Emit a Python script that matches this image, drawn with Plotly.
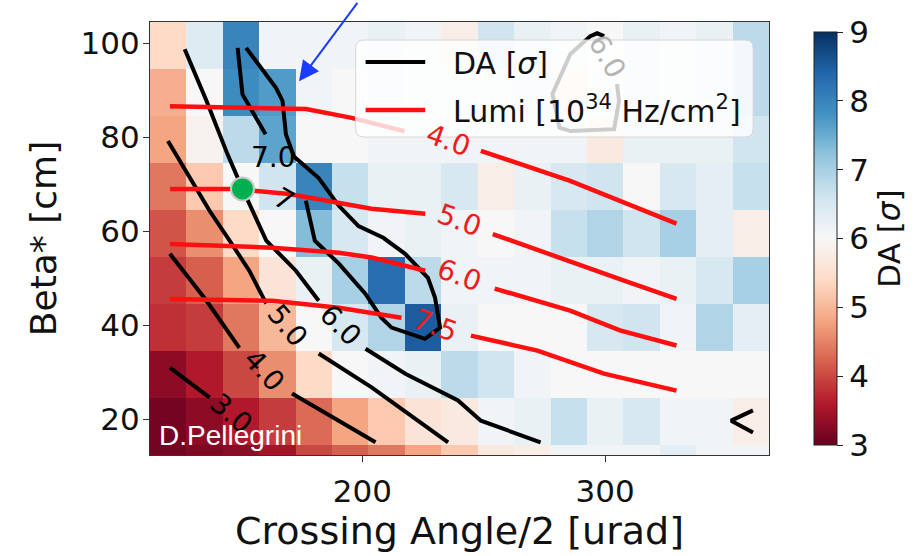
import plotly.graph_objects as go

# ---- DA scan grid (cell centres) -------------------------------------------
crossing_angle = [120, 135, 150, 165, 180, 195, 210, 225, 240, 255, 270, 285,
                  300, 315, 330, 345, 360]
beta_star = [9.5, 19.5, 29.5, 39.5, 49.5, 59.5, 69.5, 79.5, 89.5, 99.5]

# DA [sigma], one row per beta* value (lowest beta* first)
da_b10 = [3.1, 3.2, 3.3, 3.5, 4.0, 4.2, 4.4, 4.8, 5.2, 5.7, 5.8, 6.1, 6.1, 6.1, 6.3, 6.1, 6.1]
da_b20 = [3.1, 3.3, 3.6, 3.9, 4.3, 4.8, 5.2, 5.6, 5.7, 6.1, 6.2, 6.7, 6.2, 6.5, 6.1, 6.1, 5.8]
da_b30 = [3.3, 3.6, 4.0, 4.6, 5.4, 6.0, 6.1, 6.2, 6.8, 6.6, 6.1, 6.0, 6.0, 6.0, 6.0, 6.0, 6.0]
da_b40 = [3.8, 3.9, 4.4, 5.0, 6.0, 6.5, 6.9, 8.5, 6.2, 6.0, 6.0, 6.0, 6.5, 6.6, 6.1, 6.9, 6.3]
da_b50 = [3.9, 4.2, 4.8, 5.6, 6.2, 7.0, 8.3, 6.8, 6.1, 6.1, 6.1, 6.2, 6.2, 6.1, 6.2, 6.5, 7.0]
da_b60 = [4.1, 4.6, 5.4, 6.0, 7.3, 6.5, 6.1, 6.2, 6.1, 6.0, 6.1, 6.7, 6.9, 6.6, 7.0, 6.3, 5.8]
da_b70 = [4.4, 5.2, 6.0, 6.6, 8.0, 6.7, 6.2, 6.2, 6.5, 5.8, 6.2, 6.5, 6.6, 6.0, 6.5, 6.3, 6.7]
da_b80 = [4.8, 5.9, 6.8, 7.6, 6.0, 6.0, 6.1, 6.1, 6.1, 6.1, 6.1, 6.1, 5.7, 6.2, 6.2, 6.2, 6.6]
da_b90 = [4.9, 6.0, 7.9, 7.7, 6.1, 6.0, 6.2, 6.1, 6.1, 6.1, 6.2, 5.7, 6.1, 6.2, 6.1, 6.2, 6.8]
da_b100 = [5.4, 6.4, 8.0, 6.1, 6.1, 6.1, 6.2, 6.1, 5.8, 6.6, 6.2, 6.1, 6.0, 6.2, 6.1, 6.2, 6.8]

# ---- DA iso-lines (x, beta*), None = gap for the inline label ----------------
da_3 = [(120.7, 31.0), (137.1, 24.6)]
da_4 = [(120.7, 55.2), (135.8, 45.2), (149.3, 35.2), None,
        (171.0, 25.5), (190.3, 19.7), (205.4, 15.1)]
da_5 = [(119.9, 79.2), (128.9, 71.3), (137.1, 64.3), (145.3, 58.0), (153.4, 51.6),
        (160.4, 44.6), None, (182.0, 34.0), (203.8, 26.8), (235.3, 15.1)]
da_6 = [(126.8, 98.7), (135.8, 87.7), (144.4, 76.4), (150.6, 69.0), (160.4, 58.0),
        (172.6, 51.6), (182.0, 45.2), None, (201.3, 35.0), (217.7, 29.7),
        (239.4, 24.0), (248.8, 19.7), (273.4, 15.1)]
da_6_upper = [(304.9, 91.3), (305.7, 87.7), (303.7, 81.7), (285.7, 81.3),
              (281.2, 82.0), (278.3, 89.2), (285.7, 97.7), (293.9, 101.5),
              (296.7, 102.1), (299.6, 101.5)]
da_6_corner = [(360.9, 21.9), (351.9, 19.7), (360.9, 17.2)]
da_7_left = [(148.6, 99.0), (150.6, 89.1), (160.1, 80.6)]
da_7_band = [(152.1, 99.0), (164.4, 90.5), (167.1, 87.7), (168.5, 80.6), (171.8, 75.9),
             (182.0, 71.3), (190.3, 65.4), (198.4, 61.1), (208.6, 58.6), (217.6, 55.2),
             (227.0, 50.1), (229.9, 45.9), (232.0, 39.5), (225.8, 37.1), (212.0, 39.5),
             (207.8, 41.6), (201.2, 46.7), (190.3, 53.1), (180.4, 58.0), (177.9, 63.3),
             (176.7, 66.5)]

# ---- Luminosity iso-lines [1e34 Hz/cm^2] -------------------------------------
lumi_4 = [(120.7, 86.6), (176.8, 86.0), (195.6, 84.1), (217.3, 81.3), None,
          (248.8, 77.1), (285.6, 70.7), (329.4, 61.6)]
lumi_5 = [(120.7, 69.0), (146.5, 69.0), (169.8, 67.9), (190.3, 66.0), (203.8, 64.8),
          (225.9, 63.7), None, (253.7, 59.4), (285.6, 53.7), (307.8, 49.5), (329.4, 45.6)]
lumi_6 = [(120.7, 57.3), (162.9, 56.5), (190.3, 55.4), (203.8, 54.4), (225.9, 51.6), None,
          (254.5, 47.8), (285.6, 43.1), (306.1, 38.9), (329.4, 35.7)]
lumi_75 = [(120.7, 45.6), (162.9, 45.2), (190.3, 43.7), (216.1, 41.6), None,
           (244.7, 37.8), (272.1, 34.6), (299.5, 29.7), (329.4, 26.1)]

# inline labels: text, x, beta*, rotation
da_labels = [("3.0", 145.9, 21.2, 40), ("4.0", 159.6, 30.4, 48), ("5.0", 169.1, 39.9, 50),
             ("6.0", 191.1, 39.9, 45), ("7.0", 163.5, 75.6, 0), ("7", 167.7, 66.7, 30)]
da_label_hidden = ("6.0", 300.9, 97.2, 60)
lumi_labels = [("4.0", 235.5, 79.2, 20), ("5.0", 240.2, 62.2, 20),
               ("6.0", 240.2, 50.5, 20), ("7.5", 230.0, 39.9, 20)]

# working point and pointer
working_point = (150.6, 69.0)
pointer_tip = (173.9, 91.9)
pointer_tail = (198.4, 108.9)

RDBU = ["rgb(103,0,31)", "rgb(178,24,43)", "rgb(214,96,77)", "rgb(244,165,130)",
        "rgb(253,219,199)", "rgb(247,247,247)", "rgb(209,229,240)", "rgb(146,197,222)",
        "rgb(67,147,195)", "rgb(33,102,172)", "rgb(5,48,97)"]
colorscale = [[i / (len(RDBU) - 1), c] for i, c in enumerate(RDBU)]

FONT = "DejaVu Sans"


def unpack(points):
    xs, ys = [], []
    for p in points:
        if p is None:
            xs.append(None)
            ys.append(None)
        else:
            xs.append(p[0])
            ys.append(p[1])
    return xs, ys


fig = go.Figure()

fig.add_trace(go.Heatmap(
    x=crossing_angle, y=beta_star,
    z=[da_b10, da_b20, da_b30, da_b40, da_b50, da_b60, da_b70, da_b80, da_b90, da_b100],
    colorscale=colorscale, zmin=3, zmax=9, hoverinfo="skip",
    colorbar=dict(
        x=1.072, xanchor="left", xref="paper", y=0.5, yanchor="middle",
        len=1.0, lenmode="fraction", thickness=23, xpad=0,
        outlinewidth=1, outlinecolor="#222",
        tickvals=[3, 4, 5, 6, 7, 8, 9], ticks="outside", ticklen=6,
        tickcolor="#222", tickfont=dict(size=31, family=FONT, color="#111"),
        title=dict(text="DA [<i>σ</i>]", side="right",
                   font=dict(size=31, family=FONT, color="#111")),
    ),
))

for line in [da_3, da_4, da_5, da_6, da_6_upper, da_6_corner, da_7_left, da_7_band]:
    xs, ys = unpack(line)
    fig.add_trace(go.Scatter(x=xs, y=ys, mode="lines", showlegend=False, hoverinfo="skip",
                             line=dict(color="black", width=4)))

for line in [lumi_4, lumi_5, lumi_6, lumi_75]:
    xs, ys = unpack(line)
    fig.add_trace(go.Scatter(x=xs, y=ys, mode="lines", showlegend=False, hoverinfo="skip",
                             line=dict(color="#ff1010", width=4.5)))

fig.add_trace(go.Scatter(
    x=[working_point[0]], y=[working_point[1]], mode="markers", showlegend=False,
    hoverinfo="skip",
    marker=dict(size=23, color="#00b050", line=dict(color="#c8c8c8", width=2)),
))

annotations = []
for text, x, y, ang in da_labels:
    annotations.append(dict(x=x, y=y, xref="x", yref="y", text=text, showarrow=False,
                            textangle=ang, font=dict(size=28, family=FONT, color="black")))
text, x, y, ang = da_label_hidden
annotations.append(dict(x=x, y=y, xref="x", yref="y", text=text, showarrow=False,
                        textangle=ang, font=dict(size=28, family=FONT, color="#b4b4b4")))
for text, x, y, ang in lumi_labels:
    annotations.append(dict(x=x, y=y, xref="x", yref="y", text=text, showarrow=False,
                            textangle=ang, font=dict(size=28, family=FONT, color="#ee1c1c")))

annotations.append(dict(
    x=pointer_tip[0], y=pointer_tip[1], xref="x", yref="y",
    ax=pointer_tail[0], ay=pointer_tail[1], axref="x", ayref="y",
    text="", showarrow=True, arrowhead=2, arrowsize=2, arrowwidth=2,
    arrowcolor="#1a3cff",
))

annotations.append(dict(
    x=0.011, y=0.046, xref="paper", yref="paper", xanchor="left", yanchor="middle",
    text="D.Pellegrini", showarrow=False,
    font=dict(size=28, family="Liberation Sans", color="white"),
))

# legend box (semi-transparent, drawn over the curves)
lx0, lx1, ly0, ly1 = 0.3323, 0.9743, 0.7344, 0.9584
rx, ry = 0.013, 0.019
legend_path = (f"M{lx0 + rx},{ly0} L{lx1 - rx},{ly0} Q{lx1},{ly0} {lx1},{ly0 + ry} "
               f"L{lx1},{ly1 - ry} Q{lx1},{ly1} {lx1 - rx},{ly1} L{lx0 + rx},{ly1} "
               f"Q{lx0},{ly1} {lx0},{ly1 - ry} L{lx0},{ly0 + ry} Q{lx0},{ly0} {lx0 + rx},{ly0} Z")
shapes = [
    dict(type="path", path=legend_path, xref="paper", yref="paper", layer="above",
         fillcolor="rgba(255,255,255,0.8)", line=dict(color="#d6d6d6", width=1)),
    dict(type="line", xref="paper", yref="paper", layer="above",
         x0=0.3483, x1=0.4446, y0=0.9076, y1=0.9076, line=dict(color="black", width=4)),
    dict(type="line", xref="paper", yref="paper", layer="above",
         x0=0.3483, x1=0.4446, y0=0.7968, y1=0.7968, line=dict(color="#ff1010", width=4.5)),
]
annotations.append(dict(x=0.4864, y=0.9053, xref="paper", yref="paper", xanchor="left",
                        yanchor="middle", showarrow=False, text="DA [<i>σ</i>]",
                        font=dict(size=30, family=FONT, color="#111")))
annotations.append(dict(x=0.4864, y=0.7968, xref="paper", yref="paper", xanchor="left",
                        yanchor="middle", showarrow=False,
                        text="Lumi [10<sup>34</sup> Hz/cm<sup>2</sup>]",
                        font=dict(size=30, family=FONT, color="#111")))

axis_common = dict(
    showline=True, mirror=True, linecolor="#333", linewidth=1.2,
    ticks="outside", ticklen=6, tickwidth=1.2, tickcolor="#333",
    showgrid=False, zeroline=False, automargin=False,
    tickfont=dict(size=31, family=FONT, color="#111"),
)

fig.update_layout(
    width=919, height=556, template="none",
    margin=dict(l=150, r=146, t=22, b=101),
    paper_bgcolor="white", plot_bgcolor="white",
    font=dict(family=FONT, color="#111"),
    xaxis=dict(range=[112.5, 367.5], tickvals=[200, 300], ticklabelstandoff=3,
               title=dict(text="Crossing Angle/2 [urad]", standoff=2,
                          font=dict(size=38, family=FONT, color="#111")),
               **axis_common),
    yaxis=dict(range=[12.4, 104.5], tickvals=[20, 40, 60, 80, 100], ticklabelstandoff=-3,
               title=dict(text="Beta* [cm]", standoff=12,
                          font=dict(size=36, family=FONT, color="#111")),
               **axis_common),
    shapes=shapes,
    annotations=annotations,
    showlegend=False,
)

fig.write_html("out.html")
